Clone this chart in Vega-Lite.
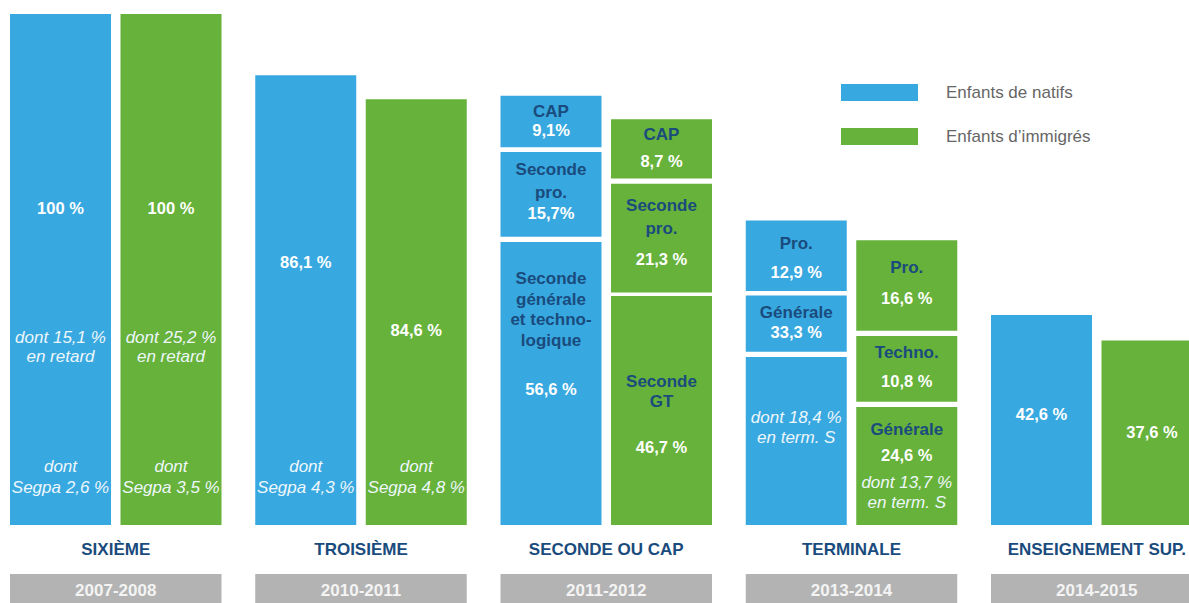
{
  "$schema": "https://vega.github.io/schema/vega-lite/v6.json",
  "width": 1189,
  "height": 603,
  "autosize": "none",
  "padding": 0,
  "background": "#ffffff",
  "config": {
    "view": {"stroke": null},
    "font": "Liberation Sans",
    "legend": {
      "orient": "none",
      "legendX": 871,
      "legendY": 84,
      "padding": 0,
      "symbolType": "M-4.53,-1H4.53V1H-4.53Z",
      "symbolSize": 289,
      "symbolStrokeWidth": 0,
      "symbolOpacity": 1,
      "labelOffset": 58,
      "rowPadding": 26,
      "labelFontSize": 17,
      "labelFont": "Liberation Sans",
      "labelColor": "#666666",
      "labelLimit": 300
    }
  },
  "datasets": {
    "segments": [
      {"niveau": "SIXIÈME", "groupe": "Enfants de natifs", "debut": 0, "fin": 100},
      {"niveau": "SIXIÈME", "groupe": "Enfants d’immigrés", "debut": 0, "fin": 100},
      {"niveau": "TROISIÈME", "groupe": "Enfants de natifs", "debut": 0, "fin": 88.0},
      {"niveau": "TROISIÈME", "groupe": "Enfants d’immigrés", "debut": 0, "fin": 83.3},
      {"niveau": "SECONDE OU CAP", "groupe": "Enfants de natifs", "debut": 0, "fin": 55.4},
      {"niveau": "SECONDE OU CAP", "groupe": "Enfants de natifs", "debut": 56.4, "fin": 73.0},
      {"niveau": "SECONDE OU CAP", "groupe": "Enfants de natifs", "debut": 73.9, "fin": 84.0},
      {"niveau": "SECONDE OU CAP", "groupe": "Enfants d’immigrés", "debut": 0, "fin": 44.8},
      {"niveau": "SECONDE OU CAP", "groupe": "Enfants d’immigrés", "debut": 45.5, "fin": 66.8},
      {"niveau": "SECONDE OU CAP", "groupe": "Enfants d’immigrés", "debut": 67.8, "fin": 79.4},
      {"niveau": "TERMINALE", "groupe": "Enfants de natifs", "debut": 0, "fin": 32.9},
      {"niveau": "TERMINALE", "groupe": "Enfants de natifs", "debut": 33.9, "fin": 44.9},
      {"niveau": "TERMINALE", "groupe": "Enfants de natifs", "debut": 45.8, "fin": 59.6},
      {"niveau": "TERMINALE", "groupe": "Enfants d’immigrés", "debut": 0, "fin": 23.1},
      {"niveau": "TERMINALE", "groupe": "Enfants d’immigrés", "debut": 24.1, "fin": 37.0},
      {"niveau": "TERMINALE", "groupe": "Enfants d’immigrés", "debut": 38.0, "fin": 55.7},
      {"niveau": "ENSEIGNEMENT SUP.", "groupe": "Enfants de natifs", "debut": 0, "fin": 41.1},
      {"niveau": "ENSEIGNEMENT SUP.", "groupe": "Enfants d’immigrés", "debut": 0, "fin": 36.1}
    ],
    "textes": [
      {"niveau": "SIXIÈME", "groupe": "Enfants de natifs", "pos": 61.8, "texte": "100 %", "style": "val"},
      {"niveau": "SIXIÈME", "groupe": "Enfants de natifs", "pos": 36.6, "texte": "dont 15,1 %", "style": "note"},
      {"niveau": "SIXIÈME", "groupe": "Enfants de natifs", "pos": 32.8, "texte": "en retard", "style": "note"},
      {"niveau": "SIXIÈME", "groupe": "Enfants de natifs", "pos": 11.35, "texte": "dont", "style": "note"},
      {"niveau": "SIXIÈME", "groupe": "Enfants de natifs", "pos": 7.3, "texte": "Segpa 2,6 %", "style": "note"},
      {"niveau": "SIXIÈME", "groupe": "Enfants d’immigrés", "pos": 61.8, "texte": "100 %", "style": "val"},
      {"niveau": "SIXIÈME", "groupe": "Enfants d’immigrés", "pos": 36.6, "texte": "dont 25,2 %", "style": "note"},
      {"niveau": "SIXIÈME", "groupe": "Enfants d’immigrés", "pos": 32.8, "texte": "en retard", "style": "note"},
      {"niveau": "SIXIÈME", "groupe": "Enfants d’immigrés", "pos": 11.35, "texte": "dont", "style": "note"},
      {"niveau": "SIXIÈME", "groupe": "Enfants d’immigrés", "pos": 7.3, "texte": "Segpa 3,5 %", "style": "note"},
      {"niveau": "TROISIÈME", "groupe": "Enfants de natifs", "pos": 51.2, "texte": "86,1 %", "style": "val"},
      {"niveau": "TROISIÈME", "groupe": "Enfants de natifs", "pos": 11.35, "texte": "dont", "style": "note"},
      {"niveau": "TROISIÈME", "groupe": "Enfants de natifs", "pos": 7.3, "texte": "Segpa 4,3 %", "style": "note"},
      {"niveau": "TROISIÈME", "groupe": "Enfants d’immigrés", "pos": 38.0, "texte": "84,6 %", "style": "val"},
      {"niveau": "TROISIÈME", "groupe": "Enfants d’immigrés", "pos": 11.35, "texte": "dont", "style": "note"},
      {"niveau": "TROISIÈME", "groupe": "Enfants d’immigrés", "pos": 7.3, "texte": "Segpa 4,8 %", "style": "note"},
      {"niveau": "SECONDE OU CAP", "groupe": "Enfants de natifs", "pos": 80.9, "texte": "CAP", "style": "lib"},
      {"niveau": "SECONDE OU CAP", "groupe": "Enfants de natifs", "pos": 77.2, "texte": "9,1%", "style": "val"},
      {"niveau": "SECONDE OU CAP", "groupe": "Enfants de natifs", "pos": 69.5, "texte": "Seconde", "style": "lib"},
      {"niveau": "SECONDE OU CAP", "groupe": "Enfants de natifs", "pos": 64.9, "texte": "pro.", "style": "lib"},
      {"niveau": "SECONDE OU CAP", "groupe": "Enfants de natifs", "pos": 60.8, "texte": "15,7%", "style": "val"},
      {"niveau": "SECONDE OU CAP", "groupe": "Enfants de natifs", "pos": 48.1, "texte": "Seconde", "style": "lib"},
      {"niveau": "SECONDE OU CAP", "groupe": "Enfants de natifs", "pos": 44.0, "texte": "générale", "style": "lib"},
      {"niveau": "SECONDE OU CAP", "groupe": "Enfants de natifs", "pos": 40.1, "texte": "et techno-", "style": "lib"},
      {"niveau": "SECONDE OU CAP", "groupe": "Enfants de natifs", "pos": 36.1, "texte": "logique", "style": "lib"},
      {"niveau": "SECONDE OU CAP", "groupe": "Enfants de natifs", "pos": 26.4, "texte": "56,6 %", "style": "val"},
      {"niveau": "SECONDE OU CAP", "groupe": "Enfants d’immigrés", "pos": 76.3, "texte": "CAP", "style": "lib"},
      {"niveau": "SECONDE OU CAP", "groupe": "Enfants d’immigrés", "pos": 71.1, "texte": "8,7 %", "style": "val"},
      {"niveau": "SECONDE OU CAP", "groupe": "Enfants d’immigrés", "pos": 62.4, "texte": "Seconde", "style": "lib"},
      {"niveau": "SECONDE OU CAP", "groupe": "Enfants d’immigrés", "pos": 57.9, "texte": "pro.", "style": "lib"},
      {"niveau": "SECONDE OU CAP", "groupe": "Enfants d’immigrés", "pos": 51.9, "texte": "21,3 %", "style": "val"},
      {"niveau": "SECONDE OU CAP", "groupe": "Enfants d’immigrés", "pos": 28.0, "texte": "Seconde", "style": "lib"},
      {"niveau": "SECONDE OU CAP", "groupe": "Enfants d’immigrés", "pos": 24.0, "texte": "GT", "style": "lib"},
      {"niveau": "SECONDE OU CAP", "groupe": "Enfants d’immigrés", "pos": 15.0, "texte": "46,7 %", "style": "val"},
      {"niveau": "TERMINALE", "groupe": "Enfants de natifs", "pos": 55.0, "texte": "Pro.", "style": "lib"},
      {"niveau": "TERMINALE", "groupe": "Enfants de natifs", "pos": 49.3, "texte": "12,9 %", "style": "val"},
      {"niveau": "TERMINALE", "groupe": "Enfants de natifs", "pos": 41.55, "texte": "Générale", "style": "lib"},
      {"niveau": "TERMINALE", "groupe": "Enfants de natifs", "pos": 37.5, "texte": "33,3 %", "style": "val"},
      {"niveau": "TERMINALE", "groupe": "Enfants de natifs", "pos": 21.0, "texte": "dont 18,4 %", "style": "note"},
      {"niveau": "TERMINALE", "groupe": "Enfants de natifs", "pos": 17.1, "texte": "en term. S", "style": "note"},
      {"niveau": "TERMINALE", "groupe": "Enfants d’immigrés", "pos": 50.35, "texte": "Pro.", "style": "lib"},
      {"niveau": "TERMINALE", "groupe": "Enfants d’immigrés", "pos": 44.2, "texte": "16,6 %", "style": "val"},
      {"niveau": "TERMINALE", "groupe": "Enfants d’immigrés", "pos": 33.6, "texte": "Techno.", "style": "lib"},
      {"niveau": "TERMINALE", "groupe": "Enfants d’immigrés", "pos": 27.9, "texte": "10,8 %", "style": "val"},
      {"niveau": "TERMINALE", "groupe": "Enfants d’immigrés", "pos": 18.6, "texte": "Générale", "style": "lib"},
      {"niveau": "TERMINALE", "groupe": "Enfants d’immigrés", "pos": 13.5, "texte": "24,6 %", "style": "val"},
      {"niveau": "TERMINALE", "groupe": "Enfants d’immigrés", "pos": 8.15, "texte": "dont 13,7 %", "style": "note"},
      {"niveau": "TERMINALE", "groupe": "Enfants d’immigrés", "pos": 4.25, "texte": "en term. S", "style": "note"},
      {"niveau": "ENSEIGNEMENT SUP.", "groupe": "Enfants de natifs", "pos": 21.5, "texte": "42,6 %", "style": "val"},
      {"niveau": "ENSEIGNEMENT SUP.", "groupe": "Enfants d’immigrés", "pos": 17.95, "texte": "37,6 %", "style": "val"}
    ],
    "niveaux": [
      {"niveau": "SIXIÈME", "annee": "2007-2008"},
      {"niveau": "TROISIÈME", "annee": "2010-2011"},
      {"niveau": "SECONDE OU CAP", "annee": "2011-2012"},
      {"niveau": "TERMINALE", "annee": "2013-2014"},
      {"niveau": "ENSEIGNEMENT SUP.", "annee": "2014-2015"}
    ]
  },
  "encoding": {
    "x": {
      "field": "niveau",
      "type": "nominal",
      "sort": ["SIXIÈME", "TROISIÈME", "SECONDE OU CAP", "TERMINALE", "ENSEIGNEMENT SUP."],
      "scale": {
        "domain": ["SIXIÈME", "TROISIÈME", "SECONDE OU CAP", "TERMINALE", "ENSEIGNEMENT SUP."],
        "range": [10, 1202.5],
        "paddingInner": 0.1376,
        "paddingOuter": 0
      },
      "axis": null
    }
  },
  "layer": [
    {
      "data": {"name": "niveaux"},
      "mark": {"type": "bar", "color": "#b3b3b3"},
      "encoding": {
        "y": {"datum": -9.6, "type": "quantitative", "scale": {"domain": [0, 100], "range": [525, 14], "nice": false, "zero": false}, "axis": null},
        "y2": {"datum": -16}
      }
    },
    {
      "data": {"name": "niveaux"},
      "mark": {"type": "text", "font": "Liberation Sans", "fontSize": 17, "fontWeight": "bold", "color": "#f4f4f4", "baseline": "middle"},
      "encoding": {
        "y": {"datum": -13.0, "type": "quantitative"},
        "text": {"field": "annee"}
      }
    },
    {
      "data": {"name": "niveaux"},
      "mark": {"type": "text", "font": "Liberation Sans", "fontSize": 17, "fontWeight": "bold", "color": "#1a4b7d", "baseline": "middle"},
      "encoding": {
        "y": {"datum": -4.9, "type": "quantitative"},
        "text": {"field": "niveau"}
      }
    },
    {
      "data": {"name": "segments"},
      "mark": {"type": "bar", "opacity": 1},
      "encoding": {
        "xOffset": {
          "field": "groupe",
          "type": "nominal",
          "scale": {"domain": ["Enfants de natifs", "Enfants d’immigrés"], "paddingInner": 0.086, "paddingOuter": 0}
        },
        "y": {"field": "debut", "type": "quantitative"},
        "y2": {"field": "fin"},
        "color": {
          "field": "groupe",
          "type": "nominal",
          "scale": {"domain": ["Enfants de natifs", "Enfants d’immigrés"], "range": ["#38a8e0", "#66b23a"]},
          "legend": {"title": null}
        }
      }
    },
    {
      "data": {"name": "textes"},
      "transform": [{"filter": "datum.style === 'val'"}],
      "mark": {"type": "text", "font": "Liberation Sans", "fontSize": 16.5, "fontWeight": "bold", "color": "#ffffff", "baseline": "middle"},
      "encoding": {
        "xOffset": {"field": "groupe", "type": "nominal"},
        "y": {"field": "pos", "type": "quantitative"},
        "text": {"field": "texte"}
      }
    },
    {
      "data": {"name": "textes"},
      "transform": [{"filter": "datum.style === 'lib'"}],
      "mark": {"type": "text", "font": "Liberation Sans", "fontSize": 17, "fontWeight": "bold", "color": "#1a4b7d", "baseline": "middle"},
      "encoding": {
        "xOffset": {"field": "groupe", "type": "nominal"},
        "y": {"field": "pos", "type": "quantitative"},
        "text": {"field": "texte"}
      }
    },
    {
      "data": {"name": "textes"},
      "transform": [{"filter": "datum.style === 'note'"}],
      "mark": {"type": "text", "font": "Liberation Sans", "fontSize": 17, "fontStyle": "italic", "color": "#eef7fc", "baseline": "middle"},
      "encoding": {
        "xOffset": {"field": "groupe", "type": "nominal"},
        "y": {"field": "pos", "type": "quantitative"},
        "text": {"field": "texte"}
      }
    }
  ]
}
